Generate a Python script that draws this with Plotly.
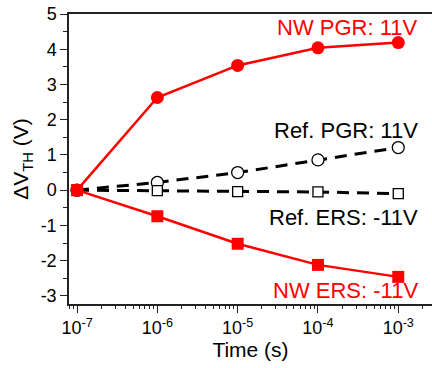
import plotly.graph_objects as go

time = [1e-7, 1e-6, 1e-5, 1e-4, 1e-3]
nw_pgr = [0.0, 2.63, 3.54, 4.04, 4.19]
ref_pgr = [0.0, 0.22, 0.50, 0.86, 1.21]
ref_ers = [0.0, -0.01, -0.04, -0.05, -0.10]
nw_ers = [0.0, -0.74, -1.52, -2.12, -2.46]

xtick_vals = [1e-7, 1e-6, 1e-5, 1e-4, 1e-3]
xtick_text = ["10<sup>-7</sup>", "10<sup>-6</sup>", "10<sup>-5</sup>", "10<sup>-4</sup>", "10<sup>-3</sup>"]
ytick_vals = [-3, -2, -1, 0, 1, 2, 3, 4, 5]
ytick_text = ["-3", "-2", "-1", "0", "1", "2", "3", "4", "5"]
minor_x = [m * 10.0 ** e for e in range(-8, -2) for m in range(2, 10)]

FONT = "Liberation Sans, Arial, sans-serif"
RED = "#ff0000"
AX = "#222222"
XR = [-7.1, -2.58]

fig = go.Figure()
fig.add_trace(go.Scatter(x=time, y=ref_pgr, mode="lines+markers",
                         line=dict(color="black", width=3, dash="12px,8px"),
                         marker=dict(symbol="circle", size=12, color="white", line=dict(width=1.3, color="black"))))
fig.add_trace(go.Scatter(x=time, y=ref_ers, mode="lines+markers",
                         line=dict(color="black", width=3, dash="12px,8px"),
                         marker=dict(symbol="square", size=10, color="white", line=dict(width=1.3, color="black"))))
fig.add_trace(go.Scatter(x=time, y=nw_pgr, mode="lines+markers",
                         line=dict(color=RED, width=2.5),
                         marker=dict(symbol="circle", size=13, color=RED)))
fig.add_trace(go.Scatter(x=time, y=nw_ers, mode="lines+markers",
                         line=dict(color=RED, width=2.5),
                         marker=dict(symbol="square", size=12, color=RED)))
# carrier trace for the minor-tick overlay axis (invisible)
fig.add_trace(go.Scatter(x=time, y=nw_ers, xaxis="x2", yaxis="y", mode="lines",
                         line=dict(width=0, color="rgba(0,0,0,0)"), hoverinfo="skip"))

ann = [
    ("NW PGR: 11V", -2.73, 4.62, RED),
    ("Ref. PGR: 11V", -2.73, 1.70, "black"),
    ("Ref. ERS: -11V", -2.73, -0.77, "black"),
    ("NW ERS: -11V", -2.73, -2.86, RED),
]
for text, xl, yv, col in ann:
    fig.add_annotation(x=xl, y=yv, xref="x", yref="y", text=text, showarrow=False,
                       xanchor="right", yanchor="middle",
                       font=dict(family=FONT, size=22, color=col))

fig.update_layout(
    width=432, height=368,
    margin=dict(l=69, r=0, t=14, b=64),
    plot_bgcolor="white", paper_bgcolor="white",
    showlegend=False,
    font=dict(family=FONT, size=18, color="black"),
    xaxis=dict(type="log", range=XR,
               tickmode="array", tickvals=xtick_vals, ticktext=xtick_text,
               ticks="outside", ticklen=7, tickwidth=1.3, tickcolor=AX,
               showline=True, linecolor=AX, linewidth=1.5, mirror=True,
               showgrid=False, zeroline=False,
               title=dict(text="Time (s)", font=dict(size=21), standoff=2),
               tickfont=dict(size=18)),
    xaxis2=dict(type="log", range=XR, overlaying="x", anchor="y", side="bottom",
                tickmode="array", tickvals=minor_x, ticktext=[" "] * len(minor_x),
                ticks="outside", ticklen=4, tickwidth=1.3, tickcolor=AX,
                showline=False, showgrid=False, zeroline=False,
                tickfont=dict(size=6)),
    yaxis=dict(range=[-3.23, 5.0], tickmode="array", tickvals=ytick_vals, ticktext=ytick_text,
               ticks="outside", ticklen=7, tickwidth=1.3, tickcolor=AX,
               minor=dict(ticks="outside", ticklen=4, tickwidth=1.3, dtick=0.5, tickcolor=AX, showgrid=False),
               showline=True, linecolor=AX, linewidth=1.5, mirror=False,
               showgrid=False, zeroline=False,
               title=dict(text="ΔV<sub>TH</sub> (V)", font=dict(size=21), standoff=6),
               tickfont=dict(size=18)),
)

fig.write_html("out.html")
